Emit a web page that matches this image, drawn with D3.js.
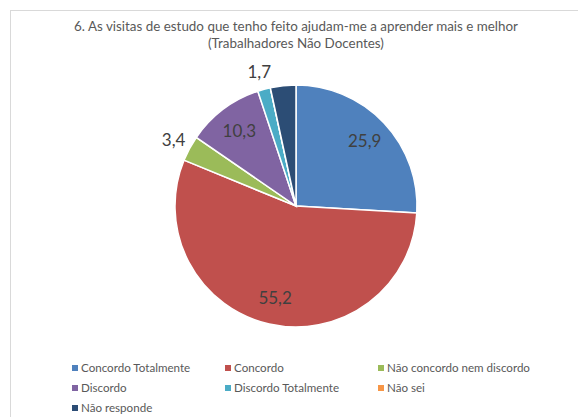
<!DOCTYPE html>
<html><head><meta charset="utf-8">
<script src="https://cdn.jsdelivr.net/npm/d3@7/dist/d3.min.js"></script>
<style>body{margin:0;background:#fff}svg{display:block;font-family:Lato,"Open Sans","Liberation Sans",sans-serif}</style>
</head><body><svg id="c" width="578" height="417"></svg>
<script>
const categories = ["Concordo Totalmente","Concordo","Não concordo nem discordo","Discordo","Discordo Totalmente","Não sei","Não responde"];
const values = [25.9, 55.2, 3.4, 10.3, 1.7, 0, 3.4];
const labelText = ["25,9","55,2","3,4","10,3","1,7","",""];
const outsideLabel = [false,false,true,false,true,false,false];
const colors = ["#4F81BD","#C0504D","#9BBB59","#8064A2","#4BACC6","#F79646","#2C4D75"];
const titleLines = ["6. As visitas de estudo que tenho feito ajudam-me a aprender mais e melhor","(Trabalhadores Não Docentes)"];

const svg = d3.select("#c");
svg.append("rect").attr("x",10.5).attr("y",10.5).attr("width",600).attr("height",440)
  .attr("fill","#fff").attr("stroke","#d9d9d9");

svg.append("g").selectAll("text").data(titleLines).join("text")
  .attr("x",296).attr("y",(d,i)=>31+i*17).attr("text-anchor","middle")
  .attr("font-size",13.4).attr("fill","#595959").text(d=>d);

const cx=296, cy=206, r=121;
const pie = d3.pie().sort(null).value(d=>d)(values);
const arc = d3.arc().innerRadius(0).outerRadius(r);
const g = svg.append("g").attr("transform",`translate(${cx},${cy})`);
g.selectAll("path").data(pie).join("path").attr("d",arc)
  .attr("fill",(d,i)=>colors[i]).attr("stroke","#fff").attr("stroke-width",1.5);

const inArc = d3.arc().innerRadius(r*0.78).outerRadius(r*0.78);
const outArc = d3.arc().innerRadius(r*1.15).outerRadius(r*1.15);
g.selectAll("text").data(pie).join("text")
  .attr("transform",(d,i)=>`translate(${(outsideLabel[i]?outArc:inArc).centroid(d)})`)
  .attr("text-anchor","middle").attr("dy","0.35em")
  .attr("font-size",17).attr("fill","#404040")
  .text((d,i)=>labelText[i]);

const cols=[72,225,378], rows=[368,388,408];
const lg = svg.append("g").selectAll("g").data(categories).join("g")
  .attr("transform",(d,i)=>`translate(${cols[i%3]},${rows[Math.floor(i/3)]})`);
lg.append("rect").attr("x",0).attr("y",-3).attr("width",6).attr("height",6).attr("fill",(d,i)=>colors[i]);
lg.append("text").attr("x",9).attr("y",0).attr("dy","0.35em").attr("font-size",11.6).attr("fill","#595959").text(d=>d);
</script></body></html>
